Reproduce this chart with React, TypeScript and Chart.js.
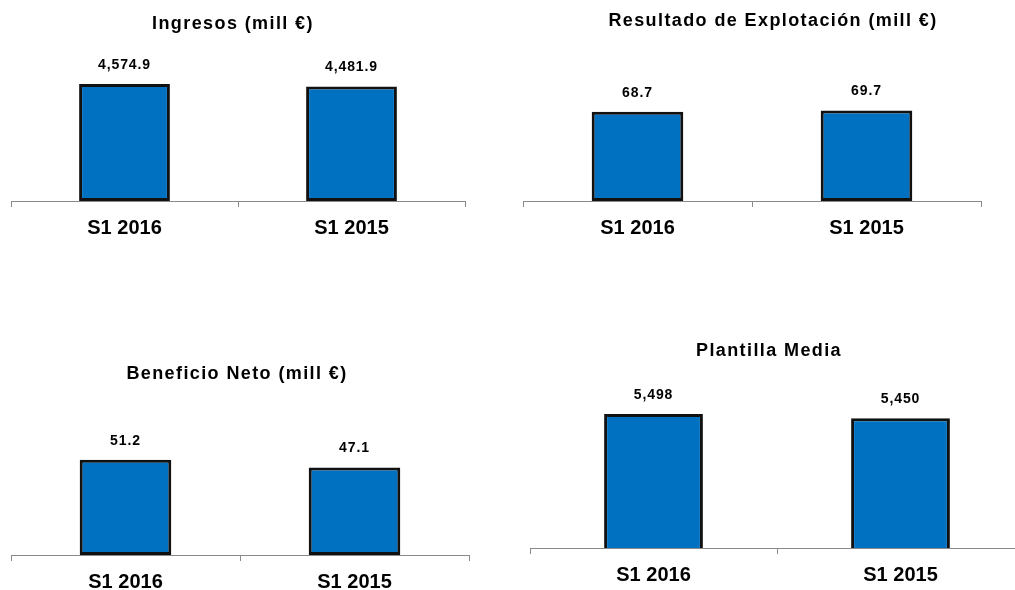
import React, { useEffect, useRef } from "react";
import { Chart, registerables } from "chart.js";

Chart.register(...registerables);

const categories = ["S1 2016", "S1 2015"];
const ingresos = [4574.9, 4481.9];
const resultado = [68.7, 69.7];
const beneficio = [51.2, 47.1];
const plantilla = [5498, 5450];

const titles = [
  "Ingresos (mill €)",
  "Resultado de Explotación (mill €)",
  "Beneficio Neto (mill €)",
  "Plantilla Media",
];

const FONT = "'Liberation Sans', Arial, sans-serif";
const BAR_FILL = "#0070C0";
const BAR_BORDER = "#111111";
const AXIS_COLOR = "#8a8a8a";

type Panel = {
  values: number[];
  decimals: number;
  min: number;
  max: number;
  left: number;
  top: number;
  width: number;
  height: number;
  pad: { left: number; right: number; top: number };
  title: string;
  titleX: number;
  titleY: number;
};

const panels: Panel[] = [
  {
    values: ingresos, decimals: 1, min: 0, max: 6000,
    left: 0, top: 0, width: 500, height: 246,
    pad: { left: 11, right: 35, top: 47.6 },
    title: titles[0], titleX: 233, titleY: 23,
  },
  {
    values: resultado, decimals: 1, min: 0, max: 100,
    left: 500, top: 0, width: 515, height: 246,
    pad: { left: 23, right: 34, top: 71 },
    title: titles[1], titleX: 773, titleY: 20,
  },
  {
    values: beneficio, decimals: 1, min: 0, max: 80,
    left: 0, top: 300, width: 500, height: 300,
    pad: { left: 11, right: 31, top: 106.2 },
    title: titles[2], titleX: 237, titleY: 373,
  },
  {
    values: plantilla, decimals: 0, min: 4000, max: 6000,
    left: 500, top: 300, width: 540, height: 293,
    pad: { left: 30, right: 16, top: 69.2 },
    title: titles[3], titleX: 769, titleY: 350,
  },
];

const valueLabelPlugin = {
  id: "valueLabels",
  afterDatasetsDraw(chart: any) {
    const ctx = chart.ctx;
    const decimals = chart.options.plugins.valueLabels?.decimals ?? 1;
    ctx.save();
    ctx.font = `bold 14px ${FONT}`;
    try { (ctx as any).letterSpacing = "0.9px"; } catch (e) {}
    ctx.fillStyle = "#000";
    ctx.textAlign = "center";
    ctx.textBaseline = "alphabetic";
    chart.data.datasets.forEach((ds: any, di: number) => {
      const meta = chart.getDatasetMeta(di);
      meta.data.forEach((bar: any, i: number) => {
        const v = ds.data[i];
        const txt = v.toLocaleString("en-US", {
          minimumFractionDigits: decimals,
          maximumFractionDigits: decimals,
        });
        ctx.fillText(txt, bar.x, bar.y - 15);
      });
    });
    ctx.restore();
  },
};

function BarPanel({ p }: { p: Panel }) {
  const ref = useRef<HTMLCanvasElement | null>(null);
  useEffect(() => {
    if (!ref.current) return;
    const chart = new Chart(ref.current, {
      type: "bar",
      data: {
        labels: categories,
        datasets: [
          {
            data: p.values,
            backgroundColor: BAR_FILL,
            borderColor: BAR_BORDER,
            borderWidth: 3,
            borderSkipped: false,
            barPercentage: 0.4,
            categoryPercentage: 1,
          },
        ],
      },
      options: {
        responsive: false,
        animation: false,
        devicePixelRatio: 1,
        layout: { padding: { left: p.pad.left, right: p.pad.right, top: p.pad.top, bottom: 0 } },
        plugins: {
          legend: { display: false },
          tooltip: { enabled: false },
          title: { display: false },
          valueLabels: { decimals: p.decimals },
        } as any,
        scales: {
          x: {
            offset: true,
            afterFit: (scale: any) => { scale.height = 45; },
            border: { display: true, color: AXIS_COLOR, width: 1 },
            grid: {
              display: true,
              offset: true,
              drawOnChartArea: false,
              drawTicks: true,
              tickLength: 6,
              color: AXIS_COLOR,
            },
            ticks: {
              color: "#000",
              font: { family: FONT, size: 20, weight: "bold" },
              padding: 9,
            },
          },
          y: {
            display: false,
            min: p.min,
            max: p.max,
          },
        },
      },
      plugins: [valueLabelPlugin],
    });
    return () => chart.destroy();
  }, []);
  return (
    <canvas
      ref={ref}
      width={p.width}
      height={p.height}
      style={{ position: "absolute", left: p.left, top: p.top, width: p.width, height: p.height }}
    />
  );
}

export default function App() {
  return (
    <div
      style={{
        position: "absolute",
        left: 0,
        top: 0,
        width: 1015,
        height: 590,
        overflow: "hidden",
        background: "#fff",
      }}
    >
      {panels.map((p, i) => (
        <BarPanel key={i} p={p} />
      ))}
      {panels.map((p, i) => (
        <div
          key={"t" + i}
          style={{
            position: "absolute",
            left: p.titleX,
            top: p.titleY,
            transform: "translate(-50%, -50%)",
            fontFamily: FONT,
            fontWeight: "bold",
            fontSize: 18,
            lineHeight: 1,
            letterSpacing: "1.4px",
            whiteSpace: "nowrap",
            color: "#000",
          }}
        >
          {p.title}
        </div>
      ))}
    </div>
  );
}
